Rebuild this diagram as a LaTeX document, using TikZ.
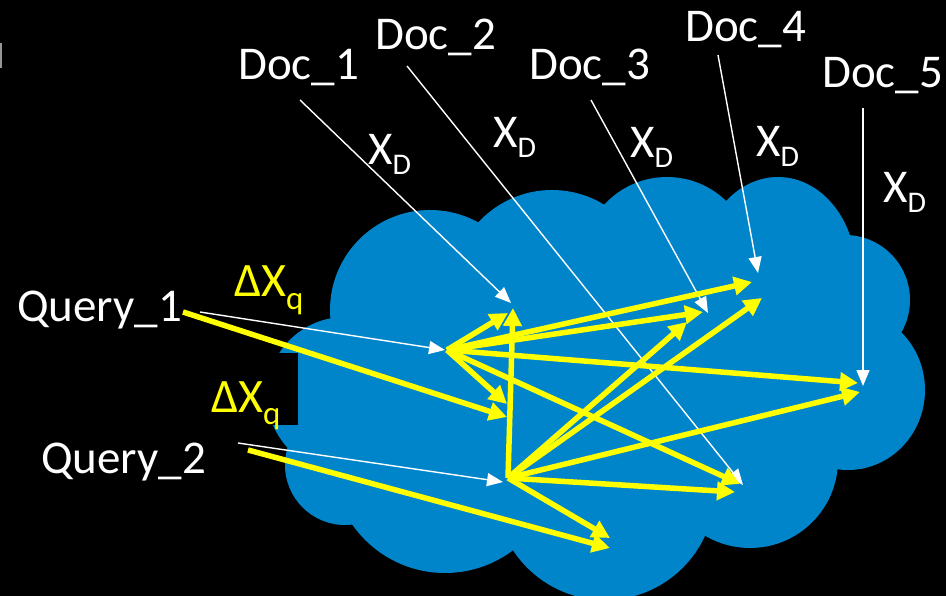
\documentclass[tikz,border=0pt]{standalone}
\usepackage{fontspec}
\setmainfont{Carlito}
\usetikzlibrary{arrows.meta}
\definecolor{cloudblue}{RGB}{0,133,202}
\definecolor{hiyellow}{RGB}{255,255,0}
\definecolor{fraggray}{RGB}{150,150,150}
\newcommand{\mysubD}[1]{\raisebox{-10pt}{\fontsize{30}{30}\selectfont #1}}
\newcommand{\mysubQ}[1]{\raisebox{-13pt}{\fontsize{33}{34}\selectfont #1}}
\begin{document}
\begin{tikzpicture}[x=1pt,y=-1pt,
  lbl/.style={text=white,inner sep=0pt,anchor=base west,font=\fontsize{47}{50}\selectfont},
  dlbl/.style={text=hiyellow,inner sep=0pt,anchor=base west,font=\fontsize{48}{50}\selectfont},
  wline/.style={draw=white,line width=1.4pt,-{Triangle[length=16pt,width=13pt]}},
  yline/.style={draw=hiyellow,line width=5.5pt,-{Triangle[length=18pt,width=18pt]}},
  lobe/.style={fill=cloudblue}]
\useasboundingbox (0,0) rectangle (946,596);
\clip (0,0) rectangle (946,596);
\fill[black] (0,0) rectangle (946,596);
\fill[fraggray] (0,43) rectangle (2,68);
% cloud
\fill[lobe] (430,310) circle[radius=100pt];
\fill[lobe] (552,290) circle[radius=100pt];
\fill[lobe] (667,262) circle[radius=85pt];
\fill[lobe] (778,272) ellipse[x radius=78pt,y radius=95pt];
\fill[lobe] (845,300) circle[radius=65pt];
\fill[lobe] (848,390) ellipse[x radius=77pt,y radius=80pt];
\fill[lobe] (750,460) circle[radius=88pt];
\fill[lobe] (605,490) circle[radius=110pt];
\fill[lobe] (445,460) circle[radius=113pt];
\fill[lobe] (345,465) circle[radius=60pt];
\fill[lobe] (345,395) circle[radius=78pt];
\fill[lobe] (430,310) -- (552,290) -- (667,262) -- (778,272) -- (845,300) -- (848,390)
  -- (750,460) -- (605,490) -- (445,460) -- (345,465) -- (345,395) -- cycle;
\fill[black] (255,353) rectangle (298,425);
% labels
\node[lbl] (doc1) at (238,80) {Doc\_1};
\node[lbl] (doc2) at (375,50) {Doc\_2};
\node[lbl] (doc3) at (529,80) {Doc\_3};
\node[lbl] (doc4) at (685,42) {Doc\_4};
\node[lbl] (doc5) at (822,88) {Doc\_5};
\node[lbl] (xd1) at (368,165) {X\mysubD{D}};
\node[lbl] (xd2) at (493,148) {X\mysubD{D}};
\node[lbl] (xd3) at (630,158) {X\mysubD{D}};
\node[lbl] (xd4) at (756,157) {X\mysubD{D}};
\node[lbl] (xd5) at (883,203) {X\mysubD{D}};
\node[lbl] (q1) at (17,322) {Query\_1};
\node[lbl] (q2) at (41,473) {Query\_2};
\node[dlbl] (dq1) at (234,297) {ΔX\mysubQ{q}};
\node[dlbl] (dq2) at (211,412) {ΔX\mysubQ{q}};
% anchor points
\coordinate (d1a) at (300,100); \coordinate (d1b) at (511,303);
\coordinate (d2a) at (407,66);  \coordinate (d2b) at (743,485);
\coordinate (d3a) at (591,100); \coordinate (d3b) at (708,313);
\coordinate (d4a) at (718,55);  \coordinate (d4b) at (758,273);
\coordinate (d5a) at (863,108); \coordinate (d5b) at (863,386);
\coordinate (q1w) at (200,312); \coordinate (q1y) at (183,312);
\coordinate (q2w) at (238,443); \coordinate (q2y) at (248,450);
\coordinate (h1) at (447,350);
\coordinate (h2) at (508,478);
\coordinate (h1w) at (445,350);
\coordinate (h2w) at (503,482);
\coordinate (e1) at (507,417);
\coordinate (e2) at (610,548);
% white connectors
\draw[wline] (d1a) -- (d1b);
\draw[wline] (d2a) -- (d2b);
\draw[wline] (d3a) -- (d3b);
\draw[wline] (d4a) -- (d4b);
\draw[wline] (d5a) -- (d5b);
\draw[wline] (q1w) -- (h1w);
\draw[wline] (q2w) -- (h2w);
% yellow connectors
\draw[yline] (q1y) -- (e1);
\draw[yline] (q2y) -- (e2);
\draw[yline] (h1) -- (508,313);
\draw[yline] (h1) -- (507,404);
\draw[yline] (h1) -- (752,282);
\draw[yline] (h1) -- (703,312);
\draw[yline] (h1) -- (858,383);
\draw[yline] (h1) -- (740,484);
\draw[yline] (h2) -- (513,308);
\draw[yline] (h2) -- (687,322);
\draw[yline] (h2) -- (762,298);
\draw[yline] (h2) -- (860,392);
\draw[yline] (h2) -- (735,492);
\draw[yline] (h2) -- (610,538);
\end{tikzpicture}
\end{document}
